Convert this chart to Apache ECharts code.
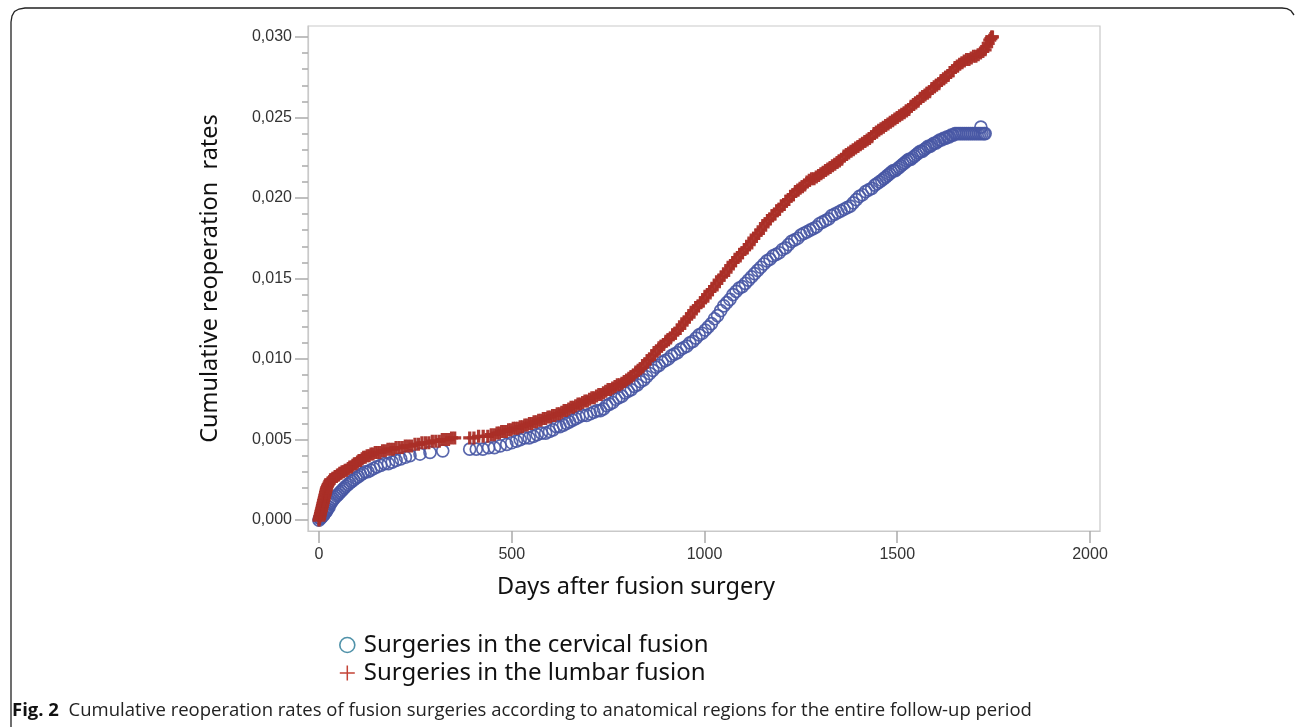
<!DOCTYPE html>
<html>
<head>
<meta charset="utf-8">
<script src="https://cdn.jsdelivr.net/npm/echarts@6/dist/echarts.min.js"></script>
<style>html,body{margin:0;padding:0;background:#fff;}#c{width:1295px;height:727px;}</style>
</head>
<body>
<div id="c"></div>
<script>
const seriesNames = ['Surgeries in the cervical fusion', 'Surgeries in the lumbar fusion'];
const xTicks = [0, 500, 1000, 1500, 2000];
const yTicks = [0, 0.005, 0.010, 0.015, 0.020, 0.025, 0.030];
const yMinorTicks = [0.001,0.002,0.003,0.004,0.006,0.007,0.008,0.009,0.011,0.012,0.013,0.014,0.016,0.017,0.018,0.019,0.021,0.022,0.023,0.024,0.026,0.027,0.028,0.029];

const cervical = [[0,0.0000],[2,0.0001],[4,0.0001],[6,0.0002],[8,0.0002],[10,0.0003],[12,0.0003],[14,0.0004],[16,0.0005],[18,0.0005],[20,0.0006],[23,0.0007],[26,0.0008],[29,0.0010],[32,0.0011],[35,0.0012],[38,0.0013],[42,0.0014],[46,0.0015],[50,0.0016],[54,0.0017],[58,0.0018],[62,0.0019],[66,0.0020],[70,0.0021],[75,0.0022],[80,0.0023],[85,0.0024],[90,0.0025],[96,0.0026],[102,0.0027],[108,0.0028],[114,0.0029],[120,0.0030],[127,0.0030],[134,0.0031],[142,0.0032],[150,0.0033],[160,0.0034],[170,0.0035],[180,0.0035],[190,0.0036],[200,0.0037],[212,0.0038],[224,0.0039],[236,0.0040],[262,0.0041],[288,0.0042],[321,0.0043],
[391,0.0044],[408,0.0044],[425,0.0044],[440,0.0045],[455,0.0045],[470,0.0046],[487,0.0047],[500,0.0048],[512,0.0049],[522,0.0050],[533,0.0051],[545,0.0051],[556,0.0052],[566,0.0053],[577,0.0054],[588,0.0054],[598,0.0055],[607,0.0056],[616,0.0058],[625,0.0058],[634,0.0059],[642,0.0060],[650,0.0061],[658,0.0062],[666,0.0063],[674,0.0064],[684,0.0065],[694,0.0065],[704,0.0066],[713,0.0067],[722,0.0068],[730,0.0068],[738,0.0069],[746,0.0071],[754,0.0072],[762,0.0073],[770,0.0075],[778,0.0076],[786,0.0077],[794,0.0079],[802,0.0080],[810,0.0081],[818,0.0083],[826,0.0084],[834,0.0086],[842,0.0087],[850,0.0089],[858,0.0091],[866,0.0093],[874,0.0095],[882,0.0096],[890,0.0098],[898,0.0099],[906,0.0100],[914,0.0102],[922,0.0103],[930,0.0104],[938,0.0106],[946,0.0107],[954,0.0108],[962,0.0110],[970,0.0111],[978,0.0113],[986,0.0115],[994,0.0116],[1002,0.0118],[1010,0.0120],[1018,0.0122],[1026,0.0125],[1034,0.0127],[1042,0.0130],[1050,0.0133],[1058,0.0135],[1066,0.0137],[1074,0.0140],[1082,0.0142],[1090,0.0144],[1098,0.0145],[1106,0.0147],[1114,0.0149],[1122,0.0151],[1130,0.0153],[1138,0.0155],[1146,0.0157],[1154,0.0159],[1162,0.0161],[1170,0.0162],[1178,0.0164],[1186,0.0165],[1194,0.0166],[1202,0.0168],[1210,0.0169],[1218,0.0171],[1226,0.0173],[1234,0.0174],[1242,0.0175],[1250,0.0177],[1258,0.0178],[1266,0.0179],[1274,0.0180],[1282,0.0181],[1290,0.0182],[1298,0.0184],[1306,0.0185],[1314,0.0186],[1322,0.0187],[1330,0.0189],[1338,0.0190],[1346,0.0191],[1354,0.0192],[1362,0.0193],[1370,0.0194],[1378,0.0195],[1386,0.0197],[1394,0.0199],[1402,0.0201],[1410,0.0202],[1418,0.0204],[1426,0.0205],[1434,0.0206],[1442,0.0208],[1448,0.0209],[1454,0.0210],[1460,0.0211],[1465,0.0212],[1470,0.0213],[1475,0.0214],[1480,0.0215],[1485,0.0216],[1490,0.0217],[1495,0.0217],[1500,0.0218],[1505,0.0219],[1510,0.0220],[1515,0.0221],[1520,0.0222],[1525,0.0223],[1530,0.0224],[1535,0.0224],[1540,0.0225],[1545,0.0226],[1550,0.0227],[1555,0.0228],[1560,0.0229],[1565,0.0229],[1570,0.0230],[1575,0.0231],[1580,0.0232],[1585,0.0232],[1590,0.0233],[1595,0.0234],[1600,0.0234],[1605,0.0235],[1610,0.0236],[1615,0.0236],[1620,0.0237],[1625,0.0237],[1630,0.0238],[1635,0.0238],[1640,0.0239],[1645,0.0239],[1650,0.0240],[1655,0.0240],[1660,0.0240],[1665,0.0240],[1670,0.0240],[1675,0.0240],[1680,0.0240],[1685,0.0240],[1690,0.0240],[1695,0.0240],[1700,0.0240],[1705,0.0240],[1710,0.0240],[1715,0.0240],[1717,0.0244],[1720,0.0240],[1725,0.0240],[1728,0.0240]];

const lumbar = [[0,0.0000],[1,0.0001],[2,0.0002],[3,0.0003],[4,0.0004],[5,0.0005],[6,0.0006],[7,0.0007],[8,0.0008],[9,0.0009],[10,0.0010],[11,0.0011],[12,0.0012],[13,0.0013],[14,0.0014],[15,0.0015],[16,0.0016],[17,0.0017],[18,0.0018],[19,0.0019],[20,0.0020],[22,0.0021],[24,0.0022],[26,0.0023],[28,0.0024],[30,0.0025],[33,0.0025],[36,0.0026],[39,0.0026],[42,0.0027],[45,0.0027],[48,0.0028],[51,0.0028],[54,0.0029],[57,0.0029],[60,0.0030],[64,0.0030],[68,0.0031],[72,0.0031],[76,0.0032],[80,0.0033],[84,0.0033],[88,0.0034],[92,0.0035],[96,0.0035],[100,0.0036],[104,0.0037],[108,0.0037],[112,0.0038],[116,0.0039],[120,0.0039],[125,0.0040],[130,0.0040],[135,0.0041],[140,0.0041],[146,0.0042],[152,0.0042],[158,0.0042],[165,0.0043],[172,0.0043],[179,0.0044],[186,0.0044],[193,0.0044],[200,0.0045],[208,0.0045],[216,0.0045],[224,0.0046],[232,0.0046],[240,0.0046],[249,0.0047],[258,0.0047],[267,0.0048],[276,0.0048],[285,0.0048],[294,0.0049],[303,0.0049],[312,0.0049],[320,0.0050],[328,0.0050],[336,0.0050],[344,0.0051],[352,0.0051],
[391,0.0051],[402,0.0051],[414,0.0052],[426,0.0052],[438,0.0052],[447,0.0053],[455,0.0053],[462,0.0054],[468,0.0054],[474,0.0055],[480,0.0055],[486,0.0055],[492,0.0056],[498,0.0056],[504,0.0057],[510,0.0057],[516,0.0057],[522,0.0058],[528,0.0058],[534,0.0059],[540,0.0059],[546,0.0060],[552,0.0060],[558,0.0061],[564,0.0061],[570,0.0062],[576,0.0062],[582,0.0063],[588,0.0063],[594,0.0064],[600,0.0064],[606,0.0065],[612,0.0065],[618,0.0066],[624,0.0066],[630,0.0067],[636,0.0068],[642,0.0068],[648,0.0069],[654,0.0070],[660,0.0070],[666,0.0071],[672,0.0072],[678,0.0072],[684,0.0073],[690,0.0074],[696,0.0074],[702,0.0075],[708,0.0076],[714,0.0076],[720,0.0077],[726,0.0078],[732,0.0078],[738,0.0079],[744,0.0080],[750,0.0081],[756,0.0081],[762,0.0082],[768,0.0083],[774,0.0084],[780,0.0084],[786,0.0085],[792,0.0086],[798,0.0087],[804,0.0088],[810,0.0089],[816,0.0090],[822,0.0092],[828,0.0093],[834,0.0094],[840,0.0095],[846,0.0097],[852,0.0099],[858,0.0100],[864,0.0102],[870,0.0103],[876,0.0105],[882,0.0107],[888,0.0108],[894,0.0109],[900,0.0111],[906,0.0112],[912,0.0113],[918,0.0115],[924,0.0116],[930,0.0118],[936,0.0119],[942,0.0121],[948,0.0123],[954,0.0125],[960,0.0126],[966,0.0128],[972,0.0130],[978,0.0132],[984,0.0133],[990,0.0135],[996,0.0136],[1002,0.0138],[1008,0.0140],[1014,0.0142],[1020,0.0143],[1026,0.0145],[1032,0.0147],[1038,0.0149],[1044,0.0151],[1050,0.0152],[1056,0.0154],[1062,0.0156],[1068,0.0158],[1074,0.0160],[1080,0.0161],[1086,0.0163],[1092,0.0165],[1098,0.0166],[1104,0.0168],[1110,0.0169],[1116,0.0171],[1122,0.0173],[1128,0.0175],[1134,0.0177],[1140,0.0178],[1146,0.0180],[1152,0.0182],[1158,0.0184],[1164,0.0186],[1170,0.0187],[1176,0.0189],[1182,0.0190],[1188,0.0192],[1194,0.0193],[1200,0.0195],[1206,0.0196],[1212,0.0198],[1218,0.0199],[1224,0.0201],[1230,0.0202],[1236,0.0204],[1242,0.0205],[1248,0.0206],[1254,0.0207],[1260,0.0208],[1266,0.0210],[1272,0.0211],[1278,0.0212],[1284,0.0212],[1290,0.0213],[1296,0.0214],[1302,0.0215],[1308,0.0216],[1314,0.0217],[1320,0.0218],[1326,0.0219],[1332,0.0220],[1338,0.0221],[1344,0.0222],[1350,0.0223],[1356,0.0224],[1362,0.0226],[1368,0.0227],[1374,0.0228],[1380,0.0229],[1386,0.0230],[1392,0.0231],[1398,0.0232],[1404,0.0233],[1410,0.0234],[1416,0.0235],[1422,0.0236],[1428,0.0237],[1434,0.0238],[1440,0.0240],[1446,0.0241],[1452,0.0242],[1458,0.0243],[1464,0.0244],[1470,0.0245],[1476,0.0246],[1482,0.0247],[1488,0.0248],[1494,0.0249],[1500,0.0250],[1506,0.0251],[1512,0.0252],[1518,0.0253],[1524,0.0254],[1530,0.0255],[1536,0.0257],[1542,0.0258],[1548,0.0259],[1554,0.0260],[1560,0.0262],[1566,0.0263],[1572,0.0264],[1578,0.0265],[1584,0.0266],[1590,0.0268],[1596,0.0269],[1602,0.0270],[1608,0.0271],[1614,0.0273],[1620,0.0274],[1626,0.0275],[1632,0.0276],[1638,0.0278],[1644,0.0279],[1650,0.0281],[1656,0.0282],[1662,0.0283],[1668,0.0284],[1674,0.0285],[1680,0.0286],[1686,0.0286],[1692,0.0287],[1698,0.0288],[1704,0.0288],[1710,0.0289],[1716,0.0290],[1722,0.0291],[1728,0.0292],[1732,0.0294],[1736,0.0296],[1740,0.0298],[1743,0.0299],[1745,0.0300],[1747,0.0300]];

const captionBold = 'Fig. 2';
const captionText = 'Cumulative reoperation rates of fusion surgeries according to anatomical regions for the entire follow-up period';

const BLUE = '#4757a4';
const RED = '#aa2e27';
const PLUS = 'path://M3.75,0H6.25V10H3.75Z M0,3.75H10V6.25H0Z';
const PLUS_THIN = 'path://M4.5,0H5.5V10H4.5Z M0,4.5H10V5.5H0Z';
const tickFont = '"Liberation Sans",Arial,sans-serif';
const titleFont = '"Noto Sans","Open Sans",sans-serif';

const chart = echarts.init(document.getElementById('c'), null, {renderer: 'canvas'});
chart.setOption({
  backgroundColor: '#fff',
  animation: false,
  grid: {left: 308, top: 26, right: 195, bottom: 196, show: true, borderColor: '#c9c9c9', borderWidth: 1.2},
  xAxis: {
    type: 'value', min: -28.5, max: 2026,
    name: 'Days after fusion surgery', nameLocation: 'middle', nameGap: 44,
    nameTextStyle: {fontFamily: titleFont, fontSize: 23.5, color: '#111', padding: [0, 136, 0, 0]},
    axisLine: {show: true, onZero: false, lineStyle: {color: '#c9c9c9', width: 1.2}},
    axisTick: {show: true, customValues: xTicks, length: 12, lineStyle: {color: '#aaa', width: 1.5}},
    axisLabel: {customValues: xTicks, margin: 16, fontFamily: tickFont, fontSize: 16, color: '#333',
      formatter: v => String(v)},
    splitLine: {show: false}
  },
  yAxis: [{
    type: 'value', min: -0.00068, max: 0.03068,
    name: 'Cumulative reoperation  rates', nameLocation: 'middle', nameGap: 86, nameRotate: 90,
    nameTextStyle: {fontFamily: titleFont, fontSize: 23.5, color: '#111'},
    axisLine: {show: true, onZero: false, lineStyle: {color: '#c9c9c9', width: 1.2}},
    axisTick: {show: true, customValues: yTicks, length: 13, lineStyle: {color: '#aaa', width: 1.5}},
    axisLabel: {customValues: yTicks, margin: 16, fontFamily: tickFont, fontSize: 16, color: '#333',
      formatter: v => v.toFixed(3).replace('.', ',')},
    splitLine: {show: false}
  }, {
    type: 'value', min: -0.00068, max: 0.03068, position: 'left',
    axisLine: {show: false, onZero: false},
    axisTick: {show: true, customValues: yMinorTicks, length: 6, lineStyle: {color: '#aaa', width: 1.5}},
    axisLabel: {show: false},
    splitLine: {show: false}
  }],
  legend: {
    orient: 'vertical', left: 334, top: 628, itemWidth: 15, itemHeight: 15, itemGap: 4,
    textStyle: {fontFamily: titleFont, fontSize: 24, color: '#111', padding: [0, 0, 0, 4]},
    data: [
      {name: seriesNames[0], icon: 'circle', itemStyle: {color: 'rgba(0,0,0,0)', borderColor: '#3d86a0', borderWidth: 1.6}},
      {name: seriesNames[1], icon: PLUS_THIN, itemStyle: {color: '#c0392b', borderWidth: 0}}
    ]
  },
  series: [{
    name: seriesNames[0], type: 'scatter', data: cervical,
    symbol: 'circle', symbolSize: 12,
    itemStyle: {color: 'rgba(0,0,0,0)', borderColor: BLUE, borderWidth: 1.7, opacity: 0.9}
  }, {
    name: seriesNames[1], type: 'scatter', data: lumbar,
    symbol: PLUS, symbolSize: 13,
    itemStyle: {color: RED, opacity: 0.95}
  }],
  graphic: [{
    type: 'polyline', silent: true,
    shape: {points: [[11,727],[11,22],[12,16],[14.5,11.5],[19,9],[25,8],[1282,8],[1287,8.6],[1291,10.8],[1294,15]]},
    style: {fill: 'none', stroke: '#222', lineWidth: 1.3}
  }, {
    type: 'text', left: 12, top: 701, silent: true,
    style: {
      text: '{b|' + captionBold + '}  ' + captionText,
      fontFamily: '"Open Sans",sans-serif', fontSize: 18.5, fill: '#222',
      rich: {b: {fontFamily: '"Open Sans",sans-serif', fontSize: 18.5, fontWeight: 'bold', fill: '#111'}}
    }
  }]
});
</script>
</body>
</html>
